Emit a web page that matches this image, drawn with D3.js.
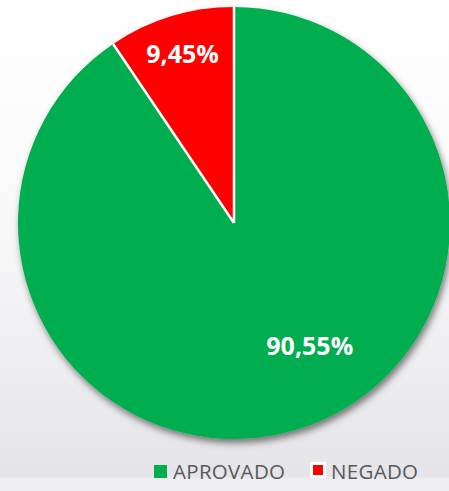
<!DOCTYPE html>
<html>
<head>
<meta charset="utf-8">
<script src="https://cdn.jsdelivr.net/npm/d3@7"></script>
<style>
  html, body { margin: 0; padding: 0; }
  body { width: 449px; height: 491px; overflow: hidden; }
</style>
</head>
<body>
<div id="chart"></div>
<script>
// values
const categories = ["APROVADO", "NEGADO"];
const values = [90.55, 9.45];
const labels = ["90,55%", "9,45%"];
const colors = ["#00ad4f", "#ff0000"];

const width = 449, height = 491;
const cx = 234, cy = 223, radius = 216;

// where each label sits: [angle in degrees from 12 o'clock, distance from centre]
const labelPos = [[148.5, 145], [-17, 176]];

const svg = d3.select("#chart").append("svg")
  .attr("width", width)
  .attr("height", height);

const defs = svg.append("defs");
const grad = defs.append("linearGradient")
  .attr("id", "bg").attr("x1", 0).attr("y1", 0).attr("x2", 0).attr("y2", 1);
grad.append("stop").attr("offset", "0%").attr("stop-color", "#ffffff");
grad.append("stop").attr("offset", "45%").attr("stop-color", "#f9f9fa");
grad.append("stop").attr("offset", "97%").attr("stop-color", "#e5e5e9");
grad.append("stop").attr("offset", "97.5%").attr("stop-color", "#efeff2");
grad.append("stop").attr("offset", "100%").attr("stop-color", "#efeff2");

const shadow = defs.append("filter")
  .attr("id", "shadow")
  .attr("x", "-10%").attr("y", "-10%").attr("width", "120%").attr("height", "120%");
shadow.append("feDropShadow")
  .attr("dx", 2).attr("dy", 4).attr("stdDeviation", 3.5)
  .attr("flood-color", "#000").attr("flood-opacity", 0.5);

svg.append("rect")
  .attr("width", width).attr("height", height)
  .attr("fill", "url(#bg)");

const pie = d3.pie().sort(null).value(d => d)(values);
const arc = d3.arc().innerRadius(0).outerRadius(radius);

const g = svg.append("g").attr("transform", `translate(${cx},${cy})`);

g.append("g")
  .attr("filter", "url(#shadow)")
  .selectAll("path")
  .data(pie)
  .join("path")
  .attr("d", arc)
  .attr("fill", (d, i) => colors[i]);

// white separators along the slice edges only
g.append("g")
  .attr("stroke", "#fff")
  .attr("stroke-width", 2.5)
  .selectAll("line")
  .data(pie)
  .join("line")
  .attr("x1", 0).attr("y1", 0)
  .attr("x2", d => radius * Math.sin(d.startAngle))
  .attr("y2", d => -radius * Math.cos(d.startAngle));

g.append("g")
  .attr("font-family", "'Open Sans', sans-serif")
  .attr("font-weight", "bold")
  .attr("font-size", 25)
  .attr("fill", "#fff")
  .attr("text-anchor", "middle")
  .selectAll("text")
  .data(pie)
  .join("text")
  .attr("x", (d, i) => labelPos[i][1] * Math.sin(labelPos[i][0] * Math.PI / 180))
  .attr("y", (d, i) => -labelPos[i][1] * Math.cos(labelPos[i][0] * Math.PI / 180))
  .attr("dy", "0.35em")
  .text((d, i) => labels[i]);

// legend
const legend = svg.append("g")
  .attr("font-family", "'Open Sans', sans-serif")
  .attr("font-size", 20.5)
  .attr("letter-spacing", "0.3px")
  .attr("fill", "#595959");

const item = legend.selectAll("g")
  .data(categories)
  .join("g")
  .attr("transform", (d, i) => `translate(${i === 0 ? 154 : 313},465)`);

item.filter((d, i) => i === 1).append("rect")
  .attr("x", -3).attr("y", -3).attr("width", 16).attr("height", 16)
  .attr("fill", "#fff");

item.append("rect")
  .attr("width", (d, i) => i === 0 ? 13 : 10)
  .attr("height", (d, i) => i === 0 ? 13 : 10)
  .attr("fill", (d, i) => colors[i]);

item.append("text")
  .attr("x", (d, i) => i === 0 ? 19 : 18)
  .attr("y", 14)
  .text(d => d);
</script>
</body>
</html>
